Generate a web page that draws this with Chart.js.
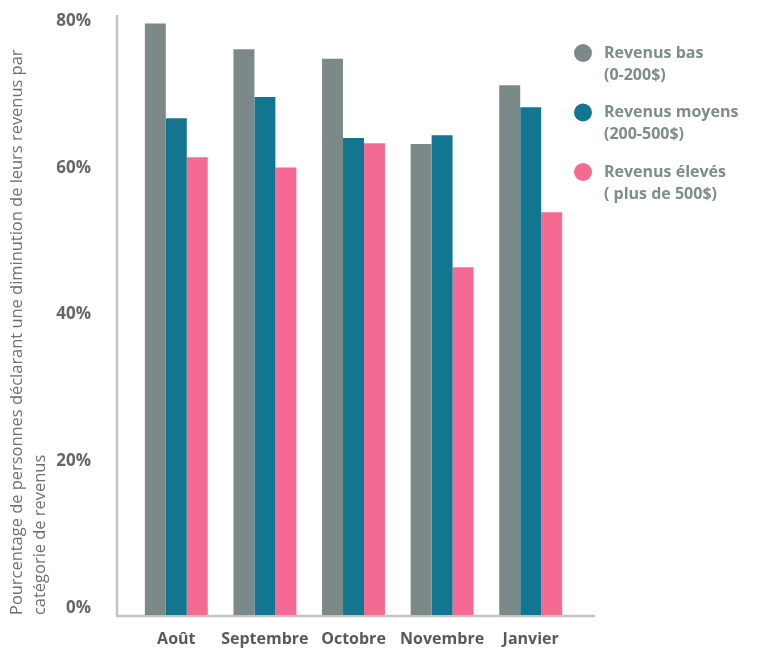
<!DOCTYPE html>
<html>
<head>
<meta charset="utf-8">
<script src="https://cdn.jsdelivr.net/npm/chart.js"></script>
<style>
  html, body { margin: 0; padding: 0; background: #fff; overflow: hidden; }
  canvas { display: block; }
</style>
</head>
<body>
<canvas id="chart" width="757" height="648"></canvas>
<script>
// categories and series
const months = ['Août', 'Septembre', 'Octobre', 'Novembre', 'Janvier'];
const revenusBas = [80.6, 77.1, 75.8, 64.2, 72.2];
const revenusMoyens = [67.7, 70.6, 65.0, 65.4, 69.2];
const revenusEleves = [62.4, 61.0, 64.3, 47.4, 54.9];
const yTicks = [0, 20, 40, 60, 80];
const legendLines = [
  ['Revenus bas', '(0-200$)'],
  ['Revenus moyens', '(200-500$)'],
  ['Revenus élevés', '( plus de 500$)']
];

const FONT = "'Open Sans', 'Noto Sans', sans-serif";

// gray axis lines, a bit longer than the plot area like in the original
const axisLines = {
  id: 'axisLines',
  beforeDatasetsDraw(chart) {
    const { ctx, chartArea: a } = chart;
    ctx.save();
    ctx.strokeStyle = '#c3c3c3';
    ctx.lineWidth = 2.5;
    ctx.beginPath();
    ctx.moveTo(a.left - 15, a.top - 13);
    ctx.lineTo(a.left - 15, a.bottom + 1);
    ctx.lineTo(a.right + 20, a.bottom + 1);
    ctx.stroke();
    ctx.restore();
  }
};

// legend with round markers and two-line labels
const sideLegend = {
  id: 'sideLegend',
  afterDraw(chart) {
    const { ctx, chartArea: a } = chart;
    ctx.save();
    ctx.font = "bold 16px " + FONT;
    ctx.textBaseline = 'middle';
    ctx.textAlign = 'left';
    chart.data.datasets.forEach((ds, i) => {
      const y = 53 + i * 59.5;
      ctx.fillStyle = ds.backgroundColor;
      ctx.beginPath();
      ctx.arc(a.right + 8, y, 9, 0, Math.PI * 2);
      ctx.fill();
      ctx.fillStyle = '#7d8d8a';
      legendLines[i].forEach((t, j) => ctx.fillText(t, a.right + 29, y + j * 22));
    });
    ctx.restore();
  }
};

new Chart(document.getElementById('chart'), {
  type: 'bar',
  data: {
    labels: months,
    datasets: [
      { label: legendLines[0].join(' '), data: revenusBas, backgroundColor: '#7b8a88' },
      { label: legendLines[1].join(' '), data: revenusMoyens, backgroundColor: '#127691' },
      { label: legendLines[2].join(' '), data: revenusEleves, backgroundColor: '#f56a93' }
    ]
  },
  options: {
    responsive: false,
    animation: false,
    layout: { padding: { top: 28, right: 182, bottom: 0, left: 0 } },
    datasets: { bar: { categoryPercentage: 0.71, barPercentage: 1.0, clip: false } },
    plugins: {
      legend: { display: false },
      tooltip: { enabled: false }
    },
    scales: {
      x: {
        grid: { display: false },
        border: { display: false },
        ticks: {
          color: '#58595b',
          padding: 7,
          maxRotation: 0,
          minRotation: 0,
          autoSkip: false,
          font: { family: FONT, size: 16, weight: 'bold' }
        },
        afterFit(scale) {
          scale.height = 33;
          scale.paddingLeft = 0;
          scale.paddingRight = 0;
        }
      },
      y: {
        min: 0,
        max: 80,
        grid: { display: false },
        border: { display: false },
        afterBuildTicks(scale) { scale.ticks = yTicks.map(v => ({ value: v })); },
        ticks: {
          color: '#666666',
          padding: 33,
          labelOffset: -7,
          font: { family: FONT, size: 17, weight: 'bold' },
          callback: v => v + '%'
        },
        title: {
          display: true,
          align: 'start',
          text: ['Pourcentage de personnes déclarant une diminution de leurs revenus par', 'catégorie de revenus'],
          color: '#6d6e71',
          font: { family: FONT, size: 16.45, lineHeight: 1.4 },
          padding: { top: 6, bottom: 0 }
        },
        afterFit(scale) {
          scale.width = 132;
          scale.paddingTop = 0;
          scale.paddingBottom = 0;
        }
      }
    }
  },
  plugins: [axisLines, sideLegend]
});
</script>
</body>
</html>
